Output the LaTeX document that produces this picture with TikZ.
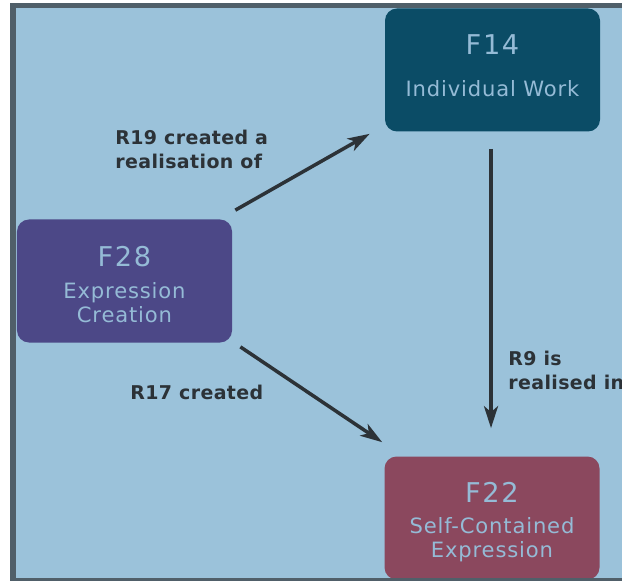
\documentclass[tikz,border=0pt]{standalone}
\usepackage{fontspec}
\setmainfont{DejaVu Sans}
\usetikzlibrary{arrows.meta}
\usetikzlibrary{positioning}

\definecolor{bgblue}{HTML}{9BC2DA}
\definecolor{boxtext}{HTML}{95BBD6}
\definecolor{framegray}{HTML}{505F69}
\definecolor{relgray}{HTML}{2C3237}
\definecolor{workteal}{HTML}{0B4C66}
\definecolor{creapurple}{HTML}{4C4887}
\definecolor{exprred}{HTML}{8B485E}

\tikzset{
    frbox/.style={rounded corners=2.4mm, minimum width=43mm, minimum height=24.6mm,
        inner sep=0pt, align=center, text=boxtext,
        font=\fontsize{12}{13.6}\selectfont\addfontfeature{LetterSpace=4}},
    rel/.style={draw=relgray, line width=2pt, -{Stealth[length=4.4mm,width=2.8mm,inset=1.2mm]}},
    rellabel/.style={text=relgray, inner sep=0pt, align=left, anchor=north west,
        font=\fontsize{10.8}{13.6}\selectfont\bfseries\addfontfeature{LetterSpace=2}}
}
\newcommand{\ftitle}[1]{{\fontsize{15.5}{18}\selectfont\addfontfeature{LetterSpace=6}#1}}

\begin{document}
\begin{tikzpicture}[x=0.2mm,y=-0.2mm]
        \useasboundingbox (0,0) rectangle (622,580);
        \fill[white] (0,0) rectangle (622,580);

        % background
        \fill[bgblue] (13,5.5) rectangle (700,581);

        % classes
        \node[frbox, fill=workteal] (f14) at (492.5,70)
            {\ftitle{F14}\\[10.8pt]Individual Work\rule[-5pt]{0pt}{0pt}};
        \node[frbox, fill=creapurple] (f28) at (124.5,281)
            {\rule{0pt}{15.5pt}\ftitle{F28}\\[5pt]Expression\\Creation};
        \node[frbox, fill=exprred] (f22) at (492,518)
            {\rule{0pt}{15.8pt}\ftitle{F22}\\[4pt]Self-Contained\\Expression};

        % properties
        \draw[rel] ([shift={(3,-9)}]f28.north east) -- ([shift={(-15,2)}]f14.south west);
        \draw[rel] ([shift={(8,4)}]f28.south east) -- ([shift={(-2,-14)}]f22.north west);
        \draw[rel] ([shift={(-1.5,17)}]f14.south) -- ([shift={(-1,-28)}]f22.north);

        % property labels
        \node[rellabel] (r19) at (115,130) {R19 created a\\realisation of};
        \node[rellabel] (r17) at (130,385) {R17 created};
        \node[rellabel] (r9) at (508,351) {R9 is\\realised in};

        % frame
        \draw[framegray, line width=1.1mm] (13,5.5) rectangle (700,581);
\end{tikzpicture}
\end{document}
